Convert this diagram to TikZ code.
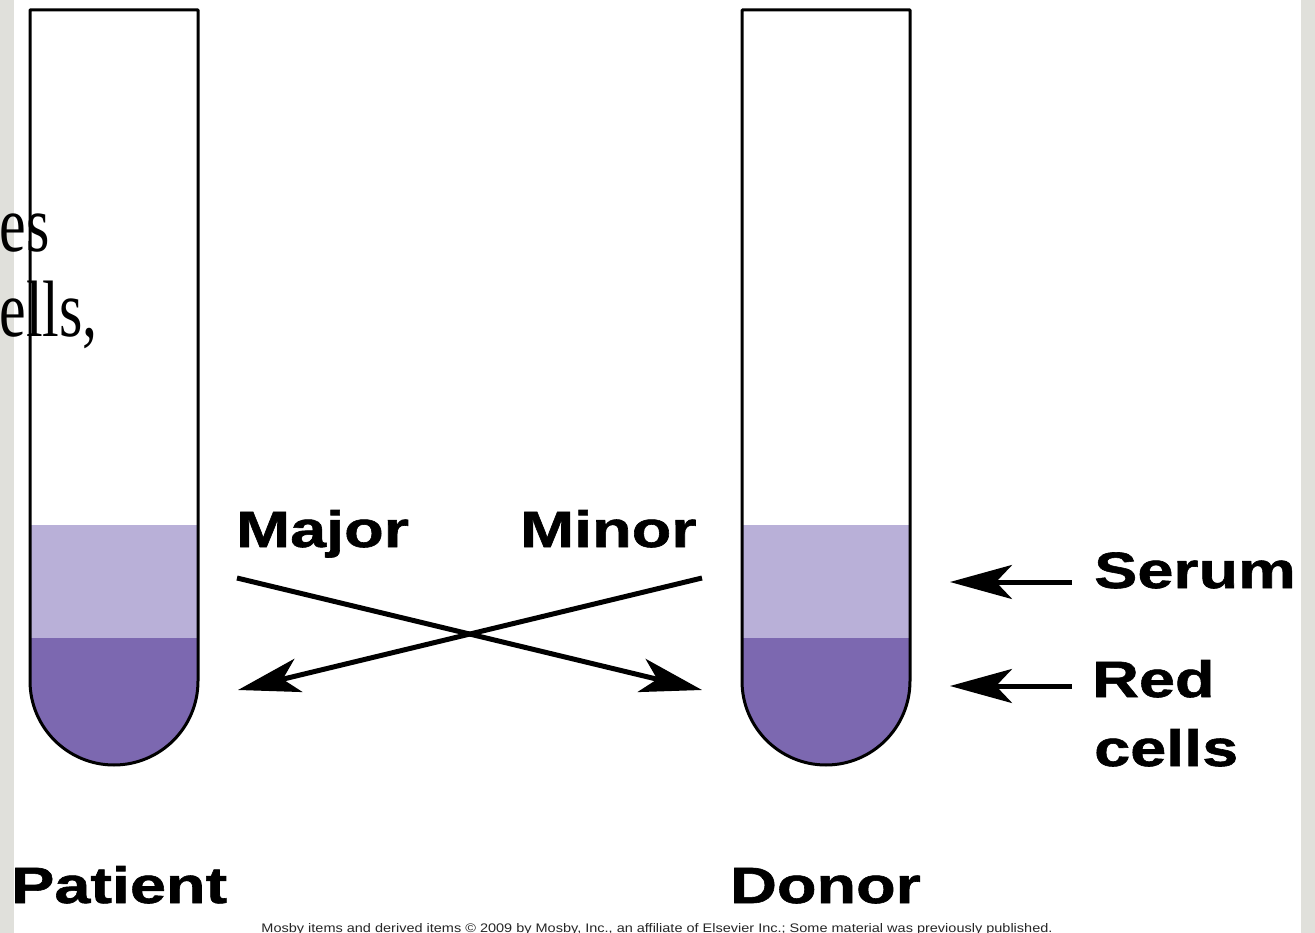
\documentclass[tikz,border=0pt]{standalone}
\usepackage{fontspec}
\usepackage{graphicx}
\usetikzlibrary{arrows.meta}
\newfontfamily\labfont[FakeStretch=1.27,FakeBold=1.2]{Liberation Sans}
\newfontfamily\serfont[FakeStretch=0.75]{Liberation Serif}
\newfontfamily\smfont{Liberation Sans}
\definecolor{slidegray}{HTML}{E0E0DB}
\definecolor{serumcol}{HTML}{B9B0D8}
\definecolor{redcol}{HTML}{7C68B0}
\tikzset{
  lab/.style={inner sep=0pt, anchor=base west, font=\labfont\bfseries\fontsize{51}{51}\selectfont},
  bgtext/.style={inner sep=0pt, anchor=base east, font=\serfont\fontsize{80}{80}\selectfont},
  tubeline/.style={draw=black, line width=3pt, line join=round},
  bigarrow/.style={draw=black, line width=5pt, -{Stealth[length=62pt,width=34pt,inset=16pt]}}
}
\newcommand{\tubeshape}[1]{(#1,10) -- (#1,681) arc[start angle=180,end angle=0,radius=84] -- (#1+168,10) -- cycle}
\begin{document}
\begin{tikzpicture}[x=1pt,y=-1pt]
  \useasboundingbox (0,0) rectangle (1315,933);
  \clip (0,0) rectangle (1315,933);
  \fill[white] (0,0) rectangle (1315,933);
  % slide margins
  \fill[slidegray] (0,0) rectangle (14,933);
  \fill[slidegray] (1301,0) rectangle (1315,933);
  % slide text fragments
  \node[bgtext] (bg1) at (50,252) {es};
  \node[bgtext] (bg2) at (98,337) {ells,};
  % tubes: layers
  \foreach \tx in {30,742}{
    \begin{scope}
      \clip \tubeshape{\tx};
      \fill[serumcol] (\tx-5,525) rectangle (\tx+175,639);
      \fill[redcol] (\tx-5,638) rectangle (\tx+175,780);
    \end{scope}
    \draw[tubeline] \tubeshape{\tx};
  }
  % labels
  \node[lab] (major) at (236,547) {Major};
  \node[lab] (minor) at (520,547) {Minor};
  \node[lab] (serum) at (1094,588) {Serum};
  \node[lab] (red) at (1092,697) {Red};
  \node[lab] (cells) at (1094,766) {cells};
  \node[lab] (patient) at (11,903) {Patient};
  \node[lab] (donor) at (730,903) {Donor};
  % arrow end points
  \coordinate (majS) at (237,578);
  \coordinate (majE) at (702,690);
  \coordinate (minS) at (702,578);
  \coordinate (minE) at (238,690);
  \coordinate (serS) at (1072,582);
  \coordinate (serE) at (950,582);
  \coordinate (redS) at (1072,686);
  \coordinate (redE) at (950,686);
  \draw[bigarrow] (majS) -- (majE);
  \draw[bigarrow] (minS) -- (minE);
  \draw[bigarrow] (serS) -- (serE);
  \draw[bigarrow] (redS) -- (redE);
  % copyright line
  \node[inner sep=0pt, anchor=base, text=black!85] (copy) at (657,932)
    {\resizebox{791pt}{9pt}{\smfont Mosby items and derived items \textcopyright{} 2009 by Mosby, Inc., an affiliate of Elsevier Inc.; Some material was previously published.}};
\end{tikzpicture}
\end{document}
